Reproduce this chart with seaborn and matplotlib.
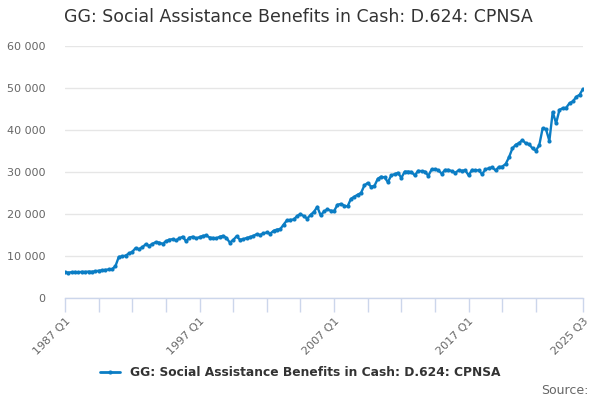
import matplotlib
matplotlib.use("Agg")
import matplotlib.pyplot as plt
import seaborn as sns
import pandas as pd
from matplotlib.ticker import FuncFormatter, FixedLocator
from matplotlib.lines import Line2D

start_year = 1987
values = [
    6100, 6050, 6150, 6200, 6100, 6250, 6200, 6300, 6250, 6350,
    6500, 6600, 6700, 6800, 6850, 7600, 9800, 9900, 10100, 10600,
    11000, 11900, 11600, 12100, 12800, 12400, 12900, 13300, 13200, 12900,
    13500, 13900, 14000, 13700, 14200, 14600, 13500, 14400, 14600, 14200,
    14500, 14800, 14900, 14400, 14300, 14200, 14600, 14800, 14300, 13200,
    13800, 14700, 13900, 14000, 14300, 14500, 14800, 15200, 15000, 15400,
    15600, 15300, 16000, 16300, 16400, 17500, 18500, 18600, 18700, 19500,
    20000, 19500, 18900, 19800, 20500, 21700, 19700, 20600, 21100, 20800,
    20700, 22200, 22400, 22000, 21800, 23600, 24100, 24600, 25000, 26800,
    27400, 26500, 26700, 28400, 28900, 28700, 27600, 29200, 29500, 29800,
    28600, 30100, 30100, 30000, 29200, 30300, 30200, 30100, 29100, 30600,
    30700, 30400, 29600, 30500, 30500, 30200, 29800, 30400, 30300, 30400,
    29200, 30500, 30400, 30400, 29500, 30600, 30900, 31100, 30400, 31200,
    31300, 31900, 33500, 35600, 36500, 36900, 37600, 36800, 36600, 35600,
    35100, 36400, 40400, 40200, 37400, 44300, 41600, 44800, 45200, 45300,
    46400, 46800, 47900, 48400, 49800,
]
labels = [f"{start_year + i // 4} Q{i % 4 + 1}" for i in range(len(values))]
series_name = "GG: Social Assistance Benefits in Cash: D.624: CPNSA"
tick_label_names = ["1987 Q1", "1997 Q1", "2007 Q1", "2017 Q1", "2025 Q3"]
y_ticks = [0, 10000, 20000, 30000, 40000, 50000, 60000]

df = pd.DataFrame({"idx": range(len(values)), "value": values, "series": series_name})

sns.set_theme(style="white")
plt.rcParams["font.family"] = ["DejaVu Sans"]

fig = plt.figure(figsize=(6, 4), dpi=100)
ax = fig.add_axes([65 / 600, 1 - 298 / 400, (583 - 65) / 600, (298 - 46) / 400])

line_color = "#0b7dc4"
sns.lineplot(data=df, x="idx", y="value", hue="series", palette=[line_color],
             marker="o", markersize=3, markeredgewidth=0, linewidth=1.7, ax=ax,
             legend=False)

n = len(values)
ax.set_xlim(0, n - 1)
ax.set_ylim(y_ticks[0], y_ticks[-1])
ax.set_yticks(y_ticks)
ax.yaxis.set_major_formatter(FuncFormatter(lambda v, p: f"{int(v):,}".replace(",", " ")))
ax.grid(axis="y", color="#e6e6e6", linewidth=1)
ax.set_axisbelow(True)

minor_pos = list(range(0, n - 5, 10)) + [n - 1]
major_pos = [labels.index(l) for l in tick_label_names]
ax.xaxis.set_minor_locator(FixedLocator(minor_pos))
ax.set_xticks(major_pos)
ax.set_xticklabels(tick_label_names, rotation=45, ha="right", rotation_mode="anchor",
                   color="#666666", fontsize=8)
ax.tick_params(axis="x", which="both", length=10, color="#ccd6eb", width=1,
               direction="out", bottom=True, pad=3)
ax.tick_params(axis="y", length=0, labelsize=8, labelcolor="#666666", pad=14)

for s in ["top", "right", "left"]:
    ax.spines[s].set_visible(False)
ax.spines["bottom"].set_color("#ccd6eb")
ax.spines["bottom"].set_linewidth(1)
ax.set_xlabel("")
ax.set_ylabel("")

fig.text(64 / 600, 1 - 17 / 400, series_name, fontsize=12.5, color="#333333",
         ha="left", va="center")

handle = Line2D([0], [0], color=line_color, linewidth=2, marker="o", markersize=3,
                markeredgewidth=0)
fig.legend([handle], [series_name], loc="center", bbox_to_anchor=(0.5, 1 - 373 / 400),
           frameon=False, prop={"weight": "bold", "size": 8.85}, handlelength=1.6,
           labelcolor="#333333")

fig.text(589 / 600, 1 - 390 / 400, "Source:", fontsize=9, color="#666666",
         ha="right", va="center")

fig.savefig("out.png", dpi=100, facecolor="white")
